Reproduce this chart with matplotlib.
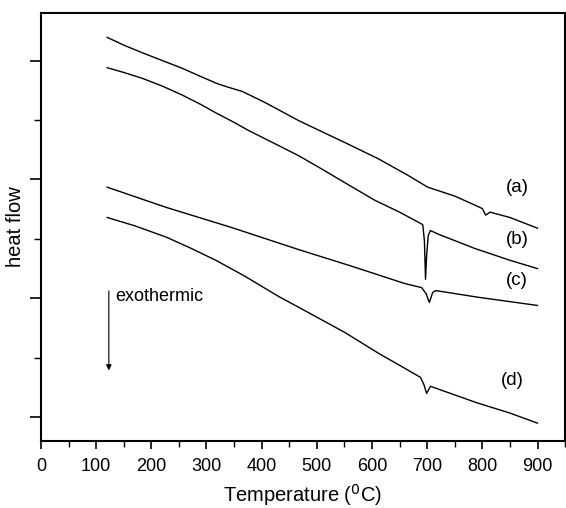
import matplotlib
matplotlib.use("Agg")
import matplotlib.pyplot as plt
from matplotlib.ticker import MultipleLocator

plt.rcParams['font.family'] = ['Liberation Sans', 'DejaVu Sans']

# DSC traces (temperature in C, heat flow in arbitrary units)
temp_a = [120, 150, 184, 220, 256, 290, 320, 340, 365, 407, 467, 510, 551, 611, 665, 701, 750, 786, 800, 806, 814, 850, 900]
flow_a = [6.39, 6.26, 6.13, 6.00, 5.87, 5.73, 5.61, 5.55, 5.48, 5.29, 4.99, 4.80, 4.62, 4.35, 4.07, 3.87, 3.72, 3.57, 3.51, 3.40, 3.45, 3.36, 3.18]

temp_b = [120, 150, 184, 220, 256, 290, 317, 350, 377, 420, 467, 510, 550, 605, 650, 692, 695, 697, 699, 702, 706, 720, 786, 850, 900]
flow_b = [5.88, 5.80, 5.70, 5.57, 5.42, 5.26, 5.12, 4.96, 4.82, 4.62, 4.40, 4.17, 3.95, 3.65, 3.45, 3.24, 2.97, 2.32, 2.72, 3.06, 3.14, 3.08, 2.84, 2.64, 2.50]

temp_c = [120, 227, 346, 467, 560, 659, 690, 698, 704, 710, 716, 791, 900]
flow_c = [3.87, 3.53, 3.19, 2.82, 2.55, 2.25, 2.18, 2.08, 1.93, 2.10, 2.13, 2.02, 1.88]

temp_d = [120, 170, 227, 270, 317, 370, 431, 467, 550, 611, 660, 688, 694, 699, 706, 715, 791, 850, 900]
flow_d = [3.36, 3.22, 3.03, 2.85, 2.64, 2.37, 2.03, 1.85, 1.43, 1.08, 0.82, 0.67, 0.55, 0.40, 0.52, 0.49, 0.24, 0.07, -0.10]

labels = ['(a)', '(b)', '(c)', '(d)']
label_pos = [(863, 3.87), (863, 2.99), (863, 2.30), (855, 0.61)]

fig = plt.figure(figsize=(5.66, 5.08), dpi=100)
ax = fig.add_axes([0.0724, 0.1319, 0.926, 0.8425])

for t, f in [(temp_a, flow_a), (temp_b, flow_b), (temp_c, flow_c), (temp_d, flow_d)]:
    ax.plot(t, f, color='black', lw=1.0)

for lab, (x, y) in zip(labels, label_pos):
    ax.text(x, y, lab, fontsize=13.5, ha='center', va='center')

# exothermic arrow
ax.annotate('', xy=(123, 0.74), xytext=(123, 2.17),
            arrowprops=dict(arrowstyle='-|>', color='black', lw=0.8,
                            mutation_scale=8))
ax.text(135, 2.03, 'exothermic', fontsize=13, ha='left', va='center')

ax.set_xlim(0, 950)
ax.set_ylim(-0.4, 6.8)
ax.xaxis.set_major_locator(MultipleLocator(100))
ax.xaxis.set_minor_locator(MultipleLocator(50))
ax.yaxis.set_major_locator(MultipleLocator(2))
ax.yaxis.set_minor_locator(MultipleLocator(1))
ax.tick_params(axis='x', which='major', direction='out', length=6, width=1.2,
               labelsize=13, pad=6)
ax.tick_params(axis='x', which='minor', direction='out', length=4, width=1.0)
ax.tick_params(axis='y', which='major', direction='out', length=8, width=1.2,
               labelleft=False)
ax.tick_params(axis='y', which='minor', direction='out', length=5, width=1.0)
for s in ax.spines.values():
    s.set_linewidth(1.5)

ax.set_xlabel('Temperature ($^0$C)', fontsize=14.5, labelpad=5)
ax.set_ylabel('heat flow', fontsize=14.5, labelpad=3)

fig.savefig('out.png', dpi=100)
